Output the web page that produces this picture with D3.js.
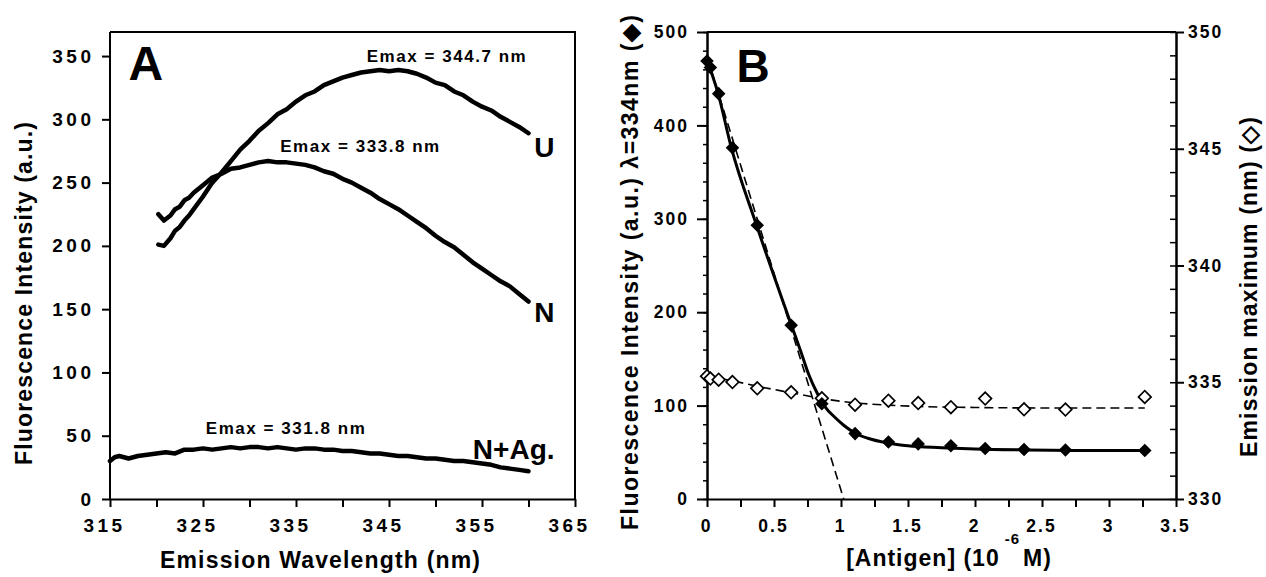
<!DOCTYPE html>
<html>
<head>
<meta charset="utf-8">
<script src="https://cdn.jsdelivr.net/npm/d3@7"></script>
<style>
  body { margin: 0; background: #fff; }
  svg { display: block; }
  text { font-family: "Liberation Sans", Arial, Helvetica, sans-serif; font-weight: bold; fill: #000; }
</style>
</head>
<body>
<svg id="chart" width="1266" height="577"></svg>
<script>
// ---------------- Panel A data (emission spectra) ----------------
const wavelengthUN = [320.2, 320.8, 321.5, 322, 322.5, 323, 323.5, 324, 325, 326, 327, 328, 329, 330, 331, 332, 333, 334, 335, 336, 337, 338, 339, 340,
                      341, 342, 343, 344, 345, 346, 347, 348, 349, 350, 351, 352, 353, 354, 355, 356, 357, 358, 359, 360];
const intensityU = [201, 200, 206, 212, 215, 220, 224, 229, 239, 250, 258, 267, 276, 283, 291, 297, 304, 308, 314, 319, 322, 327, 330, 333,
                    335, 337, 338, 339, 338, 339, 338, 336, 333, 329, 327, 322, 319, 314, 310, 307, 302, 298, 294, 289];
const intensityN = [225, 220, 224, 229, 231, 236, 238, 242, 248, 254, 257, 261, 262, 264, 266, 267, 266, 266, 265, 264, 262, 259, 257, 253,
                    250, 246, 242, 237, 233, 229, 224, 219, 214, 208, 203, 199, 193, 187, 182, 177, 172, 168, 162, 156];
const wavelengthNAg = [315, 315.5, 316, 317, 318, 319, 320, 321, 322, 323, 324, 325, 326, 327, 328, 329, 330, 331, 332, 333, 334, 335, 336, 337,
                       338, 339, 340, 341, 342, 343, 344, 345, 346, 347, 348, 349, 350, 351, 352, 353, 354, 355, 356, 357, 358, 359, 360];
const intensityNAg = [30, 33, 34, 32, 34, 35, 36, 37, 36, 39, 39, 40, 39, 40, 41, 40, 41, 41, 40, 41, 40, 39, 40, 40,
                      39, 39, 38, 38, 37, 36, 36, 35, 34, 34, 33, 32, 32, 31, 30, 30, 29, 28, 27, 25, 24, 23, 22];
const curveLabels = ["U", "N", "N+Ag."];
const emaxLabels = ["Emax = 344.7 nm", "Emax = 333.8 nm", "Emax = 331.8 nm"];

// ---------------- Panel B data (titration) ----------------
const antigen = [0, 0.025, 0.087, 0.19, 0.375, 0.628, 0.857, 1.105, 1.354, 1.576, 1.82, 2.076, 2.366, 2.675, 3.267];
const fluorescence = [469, 462, 434, 376, 293, 186, 102, 70, 61, 59, 57, 54, 53, 52.5, 52];
const emissionMax = [335.26, 335.16, 335.11, 335.01, 334.74, 334.57, 334.31, 334.04, 334.21, 334.11, 333.93, 334.30, 333.84, 333.83, 334.37];
const fitAntigen = [0, 0.083, 0.18, 0.37, 0.63, 0.70, 0.76, 0.82, 0.88, 0.95, 1.02, 1.1, 1.2, 1.35, 1.5, 1.75, 2.0, 2.4, 2.8, 3.267];
const fitFluorescence = [470, 434, 377, 293, 186, 158, 133, 114, 99, 88, 79, 71, 65, 60, 57, 55, 53.5, 52.5, 52, 52];
const tangentAntigen = [0, 1.02];
const tangentFluorescence = [474, 0];
const fitEmaxAntigen = [0, 0.2, 0.4, 0.63, 0.86, 1.1, 1.35, 1.6, 2.0, 2.5, 3.0, 3.267];
const fitEmax = [335.28, 335.05, 334.8, 334.55, 334.3, 334.12, 334.02, 333.96, 333.92, 333.9, 333.9, 333.9];

// ---------------- Tick values ----------------
const ticksAxLabels = [315, 325, 335, 345, 355, 365];
const ticksAxAll = [315, 320, 325, 330, 335, 340, 345, 350, 355, 360, 365];
const ticksAy = [0, 50, 100, 150, 200, 250, 300, 350];
const ticksBxLabels = [0, 0.5, 1, 1.5, 2, 2.5, 3, 3.5];
const ticksBxAll = [0, 0.25, 0.5, 0.75, 1, 1.25, 1.5, 1.75, 2, 2.25, 2.5, 2.75, 3, 3.25, 3.5];
const ticksByLeft = [0, 100, 200, 300, 400, 500];
const ticksByRight = [330, 335, 340, 345, 350];

const svg = d3.select("#chart");

function styleAxis(g, fs, ls) {
  g.attr("font-family", null).attr("font-size", null);
  g.selectAll("path.domain").attr("stroke-width", 2).attr("stroke", "#000");
  g.selectAll(".tick line").attr("stroke-width", 2).attr("stroke", "#000");
  g.selectAll("text").style("font-size", fs + "px").style("letter-spacing", ls + "px").style("font-weight", "bold").attr("fill", "#000");
}

// ================= Panel A =================
const xA = d3.scaleLinear().domain([315, 365]).range([110, 575]);
const yA = d3.scaleLinear().domain([0, 369]).range([499, 32]);

svg.append("path")
  .attr("d", `M${xA(315)},${yA(369)}H${xA(365)}V${yA(0)}`)
  .attr("fill", "none").attr("stroke", "#000").attr("stroke-width", 2);

const gAx = svg.append("g").attr("transform", `translate(0,${yA(0)})`)
  .call(d3.axisBottom(xA).tickValues(ticksAxAll).tickSize(8).tickSizeOuter(0).tickPadding(12)
    .tickFormat(d => ticksAxLabels.includes(d) ? d : ""));
styleAxis(gAx, 19, 3.5);
gAx.selectAll("text").attr("dx", -6);

const gAy = svg.append("g").attr("transform", `translate(${xA(315)},0)`)
  .call(d3.axisLeft(yA).tickValues(ticksAy).tickSize(8).tickSizeOuter(0).tickPadding(7.5));
gAy.select("path.domain").attr("d", `M0,${yA(369)}V${yA(0)}`);
styleAxis(gAy, 19, 3.5);

const lineA = d3.line().x(d => xA(d[0])).y(d => yA(d[1]));
const seriesA = [
  d3.zip(wavelengthUN, intensityU),
  d3.zip(wavelengthUN, intensityN),
  d3.zip(wavelengthNAg, intensityNAg)
];
svg.append("g").selectAll("path").data(seriesA).join("path")
  .attr("d", lineA).attr("fill", "none").attr("stroke", "#000")
  .attr("stroke-width", 4.5).attr("stroke-linejoin", "round").attr("stroke-linecap", "round");

svg.append("text").attr("x", xA(317)).attr("y", 80).style("font-size", "48px").text("A");

const emaxPos = [[342.6, 345], [333.3, 274], [325.3, 51]];
svg.append("g").selectAll("text").data(emaxLabels).join("text")
  .attr("x", (d, i) => xA(emaxPos[i][0])).attr("y", (d, i) => yA(emaxPos[i][1]))
  .attr("textLength", 159).attr("lengthAdjust", "spacing")
  .style("font-size", "17px").text(d => d);

const curveLabelPos = [[362.8, 270], [362.8, 140], [362.8, 32]];
svg.append("g").selectAll("text").data(curveLabels).join("text")
  .attr("x", (d, i) => xA(curveLabelPos[i][0])).attr("y", (d, i) => yA(curveLabelPos[i][1]))
  .attr("text-anchor", "end").style("font-size", "28px").text(d => d);

svg.append("text").attr("transform", "translate(24,293.5) rotate(-90)")
  .attr("text-anchor", "middle").attr("dominant-baseline", "central")
  .attr("textLength", 343).attr("lengthAdjust", "spacing")
  .style("font-size", "23px").text("Fluorescence Intensity (a.u.)");
svg.append("text").attr("x", 320).attr("y", 568).attr("text-anchor", "middle")
  .attr("textLength", 320).attr("lengthAdjust", "spacing")
  .style("font-size", "23px").text("Emission Wavelength (nm)");

// ================= Panel B =================
const xB = d3.scaleLinear().domain([0, 3.5]).range([707, 1176]);
const yB = d3.scaleLinear().domain([0, 500]).range([499, 32]);
const yR = d3.scaleLinear().domain([330, 350]).range([499, 32]);

svg.append("path").attr("d", `M${xB(0)},${yB(500)}H${xB(3.5)}`)
  .attr("stroke", "#000").attr("stroke-width", 2);

const gByMinor = svg.append("g").attr("transform", `translate(${xB(0)},0)`)
  .call(d3.axisLeft(yB).tickValues(d3.range(0, 501, 20)).tickSize(4).tickSizeOuter(0).tickFormat(""));
styleAxis(gByMinor, 17, 0);
gByMinor.selectAll(".tick line").attr("stroke-width", 1.5);
const gBy = svg.append("g").attr("transform", `translate(${xB(0)},0)`)
  .call(d3.axisLeft(yB).tickValues(ticksByLeft).tickSize(10).tickSizeOuter(0).tickPadding(8));
styleAxis(gBy, 17.5, 2);

const gRMinor = svg.append("g").attr("transform", `translate(${xB(3.5)},0)`)
  .call(d3.axisRight(yR).tickValues(d3.range(330, 351, 1)).tickSize(-6).tickSizeOuter(0).tickFormat(""));
styleAxis(gRMinor, 17, 0);
gRMinor.selectAll(".tick line").attr("stroke-width", 1.5);
const gR = svg.append("g").attr("transform", `translate(${xB(3.5)},0)`)
  .call(d3.axisRight(yR).tickValues(ticksByRight).tickSize(8).tickSizeOuter(0).tickPadding(4));
styleAxis(gR, 17.5, 2);

const gBx = svg.append("g").attr("transform", `translate(0,${yB(0)})`)
  .call(d3.axisBottom(xB).tickValues(ticksBxAll).tickSize(8).tickSizeOuter(0).tickPadding(13)
    .tickFormat(d => ticksBxLabels.some(v => Math.abs(v - d) < 1e-9) ? d : ""));
styleAxis(gBx, 17.5, 2);
gBx.selectAll("text").attr("dx", -1);

const lineB = d3.line().x(d => xB(d[0])).y(d => yB(d[1]));
svg.append("path").datum(d3.zip(tangentAntigen, tangentFluorescence))
  .attr("d", lineB).attr("fill", "none").attr("stroke", "#000")
  .attr("stroke-width", 1.6).attr("stroke-dasharray", "9,5");

const lineR = d3.line().x(d => xB(d[0])).y(d => yR(d[1])).curve(d3.curveMonotoneX);
svg.append("path").datum(d3.zip(fitEmaxAntigen, fitEmax))
  .attr("d", lineR).attr("fill", "none").attr("stroke", "#000")
  .attr("stroke-width", 1.6).attr("stroke-dasharray", "9,5");

svg.append("path").datum(d3.zip(fitAntigen, fitFluorescence))
  .attr("d", d3.line().x(d => xB(d[0])).y(d => yB(d[1])).curve(d3.curveMonotoneX))
  .attr("fill", "none").attr("stroke", "#000").attr("stroke-width", 3);

svg.append("g").selectAll("path").data(d3.zip(antigen, emissionMax)).join("path")
  .attr("transform", d => `translate(${xB(d[0])},${yR(d[1])}) rotate(45)`)
  .attr("d", d3.symbol().type(d3.symbolSquare).size(80)).attr("fill", "#fff").attr("stroke", "#000").attr("stroke-width", 1.7);
svg.append("g").selectAll("path").data(d3.zip(antigen, fluorescence)).join("path")
  .attr("transform", d => `translate(${xB(d[0])},${yB(d[1])}) rotate(45)`)
  .attr("d", d3.symbol().type(d3.symbolSquare).size(92)).attr("fill", "#000");

svg.append("text").attr("x", xB(0.22)).attr("y", 82).style("font-size", "46px").text("B");

svg.append("text").attr("transform", "translate(630,272.5) rotate(-90)")
  .attr("text-anchor", "middle").attr("dominant-baseline", "central")
  .attr("textLength", 515).attr("lengthAdjust", "spacing")
  .style("font-size", "23px").text("Fluorescence Intensity (a.u.) λ=334nm (◆)");
svg.append("text").attr("transform", "translate(1249,287) rotate(-90)")
  .attr("text-anchor", "middle").attr("dominant-baseline", "central")
  .attr("textLength", 340).attr("lengthAdjust", "spacing")
  .style("font-size", "23px").text("Emission maximum (nm) (◇)");
const xt = svg.append("text").attr("x", 949).attr("y", 566).attr("text-anchor", "middle")
  .style("font-size", "23px").style("letter-spacing", "1px");
xt.append("tspan").text("[Antigen] (10");
xt.append("tspan").attr("dx", 5).attr("dy", -22).style("font-size", "15px").text("-6");
xt.append("tspan").attr("dx", 3).attr("dy", 22).text("M)");
</script>
</body>
</html>
